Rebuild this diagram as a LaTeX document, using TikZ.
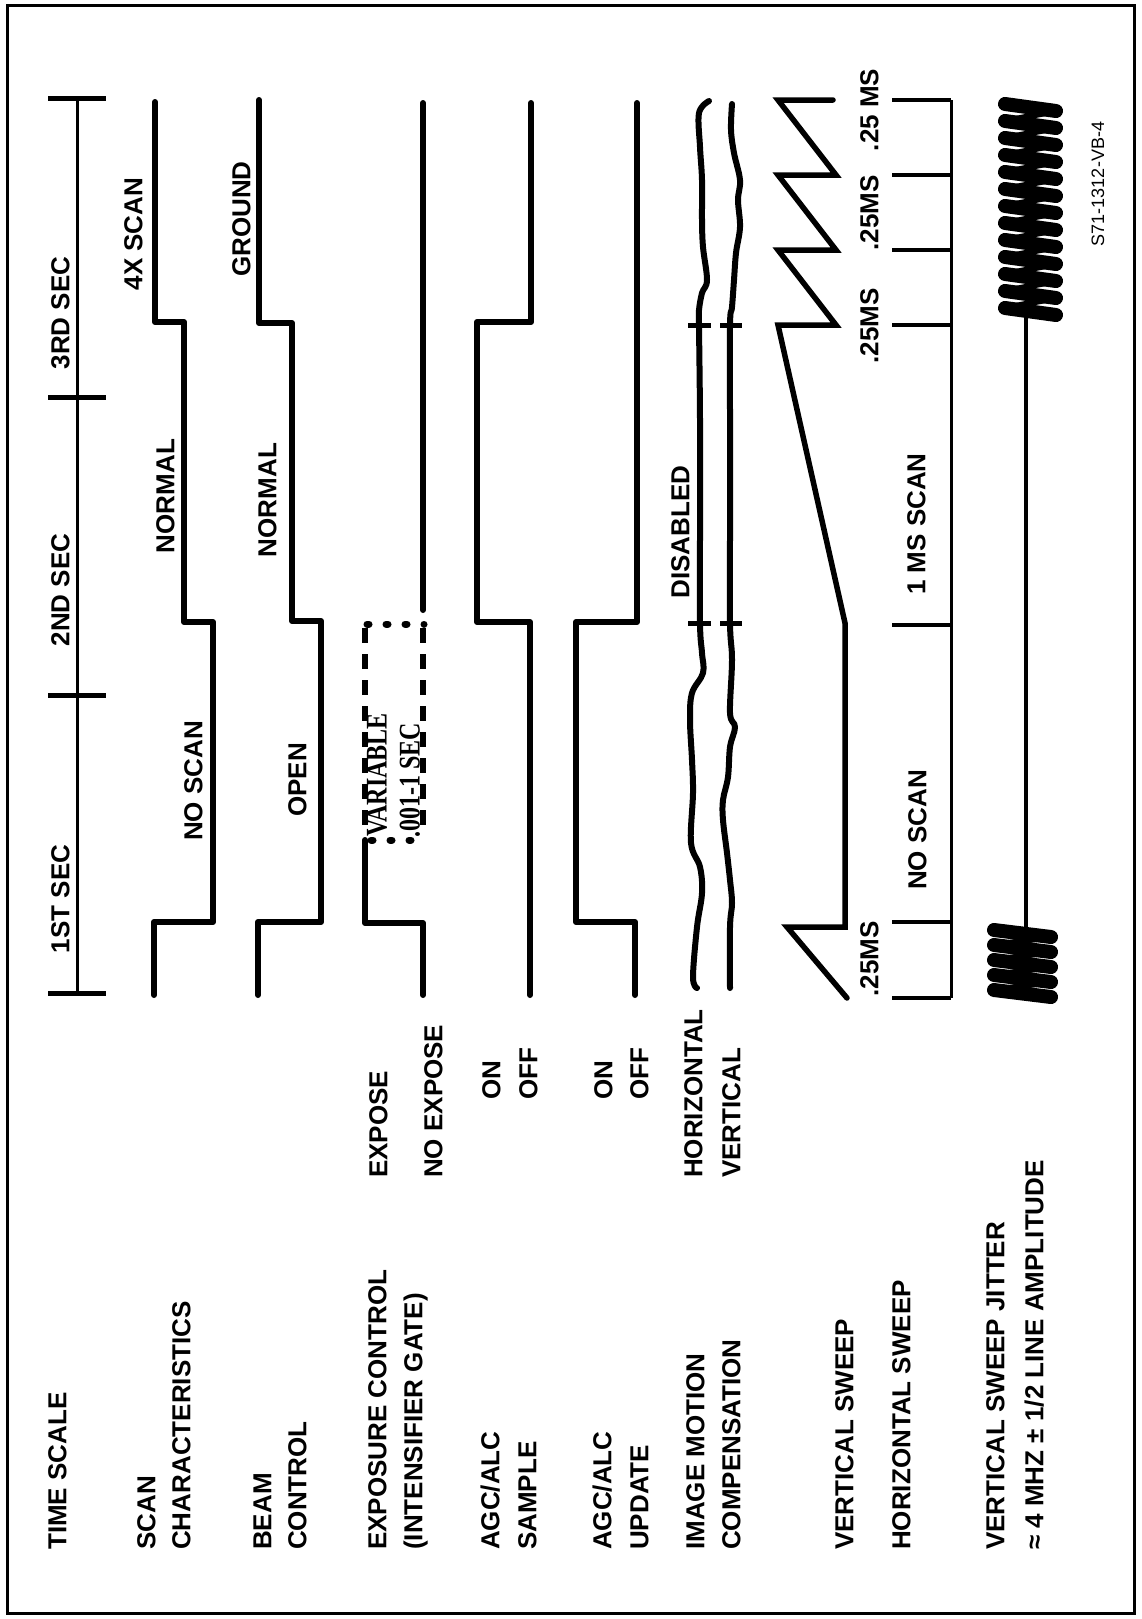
\documentclass[tikz,border=0pt]{standalone}
\usepackage{fontspec}
\newfontfamily\lblfam{Liberation Sans}
\newfontfamily\serfam[FakeStretch=0.8]{Liberation Serif}
\newcommand\lblfont{\lblfam\bfseries\fontsize{26}{30}\selectfont}
\newcommand\serfont{\serfam\bfseries\fontsize{30}{34}\selectfont}
\newcommand\tinyfont{\lblfam\fontsize{18}{22}\selectfont}
\begin{document}
\begin{tikzpicture}[x=1pt,y=1pt,
  sig/.style={line width=6pt, line join=round, line cap=round},
  thinln/.style={line width=3pt},
  tickln/.style={line width=5pt},
  lab/.style={font=\lblfont, rotate=90, inner sep=0pt, text height=18.6pt, text depth=0pt},
  labs/.style={lab, anchor=west},
  ser/.style={font=\serfont, rotate=90, inner sep=0pt, text height=19pt, text depth=0pt, anchor=west},
  dashside/.style={line width=6pt, dash pattern=on 15pt off 11pt},
  dotside/.style={line width=7pt, line cap=round, dash pattern=on 2pt off 17pt},
  coilbar/.style={line width=14pt, line cap=round},
  coilback/.style={line width=6pt, line cap=round, line join=round},
]
\useasboundingbox (0,0) rectangle (1141,-1619);
\fill[white] (0,0) rectangle (1141,-1619);
\draw[line width=3pt] (7,-6) rectangle (1134,-1613);

% ---------- left labels ----------
\node[labs] (tsl) at (57,-1550) {TIME SCALE};
\node[labs] (scl1) at (146,-1550) {SCAN};
\node[labs] (scl2) at (181,-1550) {CHARACTERISTICS};
\node[labs] (bcl1) at (262,-1550) {BEAM};
\node[labs] (bcl2) at (297,-1550) {CONTROL};
\node[labs] (exl1) at (377,-1550) {EXPOSURE CONTROL};
\node[labs] (exl2) at (413,-1550) {(INTENSIFIER GATE)};
\node[labs] (asl1) at (490,-1550) {AGC/ALC};
\node[labs] (asl2) at (527,-1550) {SAMPLE};
\node[labs] (aul1) at (602,-1550) {AGC/ALC};
\node[labs] (aul2) at (639,-1550) {UPDATE};
\node[labs] (iml1) at (695,-1550) {IMAGE MOTION};
\node[labs] (iml2) at (731,-1550) {COMPENSATION};
\node[labs] (vsl) at (844,-1550) {VERTICAL SWEEP};
\node[labs] (hsl) at (901,-1550) {HORIZONTAL SWEEP};
\node[labs] (vjl1) at (995,-1550) {VERTICAL SWEEP JITTER};
\node[labs] (vjl2) at (1034,-1550) {≈ 4 MHZ ± 1/2 LINE AMPLITUDE};

% ---------- state labels ----------
\node[labs] (exp) at (378,-1178) {EXPOSE};
\node[labs] (noexp) at (433,-1178) {NO EXPOSE};
\node[labs] (son) at (491,-1100) {ON};
\node[labs] (soff) at (528,-1100) {OFF};
\node[labs] (uon) at (603,-1100) {ON};
\node[labs] (uoff) at (639,-1100) {OFF};
\node[labs] (hor) at (693,-1178) {HORIZONTAL};
\node[labs] (ver) at (731,-1178) {VERTICAL};

% ---------- time scale ----------
\draw[thinln] (77,-98) -- (77,-993);
\foreach \y in {98,397,695,993} \draw[tickln] (48,-\y) -- (106,-\y);
\node[lab] (s1) at (60,-899) {1ST SEC};
\node[lab] (s2) at (60,-590) {2ND SEC};
\node[lab] (s3) at (60,-313) {3RD SEC};

% ---------- scan characteristics ----------
\draw[sig] (154,-995) -- (154,-922) -- (213,-922) -- (213,-622) -- (184,-622) -- (184,-322) -- (155,-322) -- (155,-102);
\node[lab] (sc4x) at (133,-234) {4X SCAN};
\node[lab] (scnorm) at (165,-496) {NORMAL};
\node[lab] (scno) at (193,-781) {NO SCAN};

% ---------- beam control ----------
\draw[sig] (258,-995) -- (258,-922) -- (321,-922) -- (321,-621) -- (292,-621) -- (292,-323) -- (259,-323) -- (259,-100);
\node[lab] (bgnd) at (241,-219) {GROUND};
\node[lab] (bnorm) at (267,-500) {NORMAL};
\node[lab] (bopen) at (297,-780) {OPEN};

% ---------- exposure control ----------
\draw[sig] (423,-995) -- (423,-923) -- (365,-923) -- (365,-840);
\draw[sig] (423,-610) -- (423,-103);
\draw[dashside] (365,-628) -- (365,-836);
\draw[dashside] (423,-628) -- (423,-836);
\draw[dotside] (367,-624) -- (424,-624);
\draw[dotside] (371,-840) -- (424,-840);
\node[ser] (var) at (377,-837) {VARIABLE};
\node[ser] (vart) at (410,-838) {.001-1 SEC};

% ---------- AGC/ALC sample ----------
\draw[sig] (530,-995) -- (530,-622) -- (477,-622) -- (477,-322) -- (531,-322) -- (531,-103);

% ---------- AGC/ALC update ----------
\draw[sig] (635,-995) -- (635,-922) -- (576,-922) -- (576,-622) -- (637,-622) -- (637,-103);

% ---------- image motion compensation ----------
\draw[sig] plot[smooth, tension=0.6] coordinates {(709,-101) (699,-113) (700,-147) (702,-180) (702,-220) (703,-247) (707,-280) (702,-293) (699,-310) (699,-325) (700,-420) (700,-530) (700,-623) (702,-653) (703,-673) (692,-693) (690,-720) (692,-760) (693,-793) (691,-843) (700,-867) (702,-893) (697,-927) (693,-977) (697,-988)};
\draw[sig] plot[smooth, tension=0.6] coordinates {(732,-104) (731,-130) (734,-153) (740,-180) (738,-200) (740,-227) (736,-253) (734,-280) (732,-307) (730,-325) (730,-420) (730,-530) (730,-623) (732,-660) (730,-713) (735,-727) (730,-747) (728,-777) (723,-800) (723,-820) (727,-853) (730,-880) (732,-903) (730,-927) (730,-988)};
\foreach \y in {325,623} {
  \draw[tickln] (688,-\y) -- (711,-\y);
  \draw[tickln] (720,-\y) -- (742,-\y);
}
\node[lab] (dis) at (680,-532) {DISABLED};

% ---------- vertical sweep ----------
\draw[sig, line width=5.5pt, line join=miter] (847,-998) -- (787,-927) -- (845,-927) -- (845,-623) -- (778,-325) -- (836,-325) -- (778,-250) -- (836,-250) -- (778,-175) -- (836,-175) -- (778,-100) -- (833,-100);

% ---------- horizontal sweep ----------
\draw[thinln] (951,-100) -- (951,-998);
\foreach \y in {100,175,250,325,625,922,998} \draw[line width=4pt] (892,-\y) -- (951,-\y);
\node[lab] (t1) at (869,-110) {.25 MS};
\node[lab] (t2) at (869,-213) {.25MS};
\node[lab] (t3) at (869,-326) {.25MS};
\node[lab] (t4) at (869,-959) {.25MS};
\node[lab] (hs1) at (916,-524) {1 MS SCAN};
\node[lab] (hs0) at (917,-830) {NO SCAN};

% ---------- vertical sweep jitter ----------
\draw[line width=4pt] (1026,-310) -- (1026,-932);
\foreach \k in {0,...,12} \draw[coilbar] (1005,{-104-17*\k}) -- (1056,{-111-17*\k});
\foreach \k in {0,...,11} \draw[coilback] (1056,{-111-17*\k}) -- (1005,{-121-17*\k});
\foreach \k in {0,...,4} \draw[coilbar] (994,{-930-15*\k}) -- (1051,{-937-15*\k});
\foreach \k in {0,...,3} \draw[coilback] (1051,{-937-15*\k}) -- (994,{-945-15*\k});

\node[font=\tinyfont, rotate=90, inner sep=0pt] (ref) at (1098,-184) {S71-1312-VB-4};
\end{tikzpicture}
\end{document}
